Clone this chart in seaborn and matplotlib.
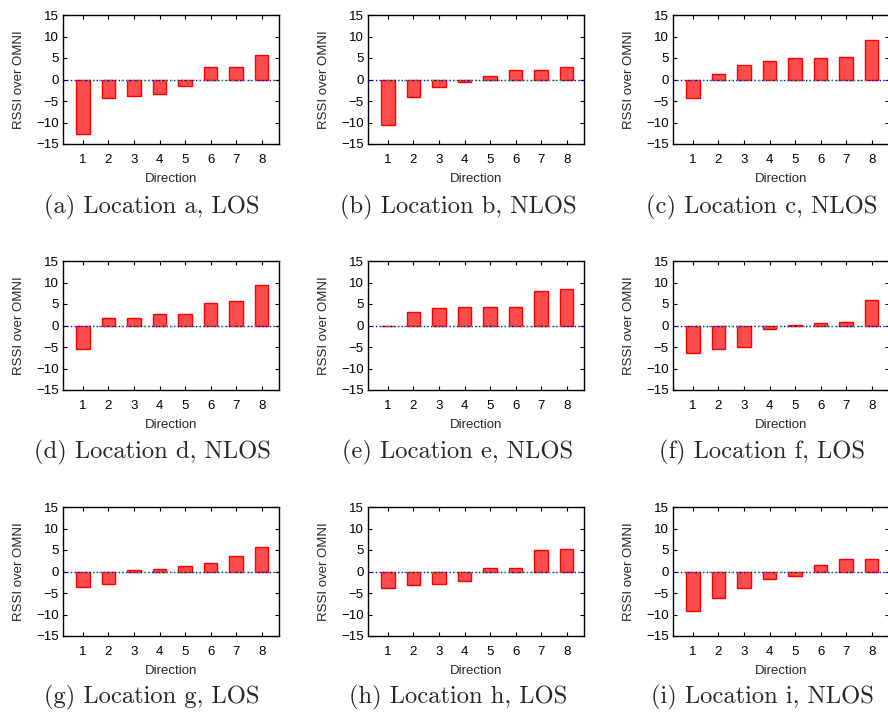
import numpy as np
import pandas as pd
import matplotlib
matplotlib.use('Agg')
import matplotlib.pyplot as plt
import seaborn as sns

# RSSI gain over omni antenna, per direction, for each location
directions = ['1', '2', '3', '4', '5', '6', '7', '8']
loc_a = [-12.6, -4.2, -3.9, -3.3, -1.6, 2.8, 3.0, 5.8]
loc_b = [-10.6, -4.0, -1.7, -0.5, 0.8, 2.3, 2.3, 3.0]
loc_c = [-4.4, 1.2, 3.3, 4.2, 4.9, 5.1, 5.2, 9.2]
loc_d = [-5.5, 1.7, 1.7, 2.6, 2.6, 5.2, 5.7, 9.4]
loc_e = [-0.1, 3.2, 4.0, 4.3, 4.3, 4.4, 8.0, 8.4]
loc_f = [-6.4, -5.5, -5.1, -0.85, 0.1, 0.6, 0.8, 5.9]
loc_g = [-3.6, -2.9, 0.4, 0.5, 1.2, 1.9, 3.7, 5.6]
loc_h = [-3.8, -3.1, -2.9, -2.2, 0.8, 0.9, 5.0, 5.3]
loc_i = [-9.2, -6.1, -3.9, -1.8, -1.0, 1.6, 2.8, 2.8]

captions = ['(a) Location a, LOS', '(b) Location b, NLOS', '(c) Location c, NLOS',
            '(d) Location d, NLOS', '(e) Location e, NLOS', '(f) Location f, LOS',
            '(g) Location g, LOS', '(h) Location h, LOS', '(i) Location i, NLOS']
series = [loc_a, loc_b, loc_c, loc_d, loc_e, loc_f, loc_g, loc_h, loc_i]

sns.set_style('ticks')
plt.rcParams['font.family'] = ['Liberation Sans', 'DejaVu Sans']
plt.rcParams['axes.linewidth'] = 1.0

W, H = 888, 717
fig = plt.figure(figsize=(W/100, H/100), dpi=100)

col_left = [63, 368, 673]
row_top = [15, 261, 507]
aw, ah = 216, 129
cap_x = [152, 458, 762]
cap_y = [207, 452, 697]

for k, (vals, cap) in enumerate(zip(series, captions)):
    r, c = divmod(k, 3)
    ax = fig.add_axes([col_left[c]/W, 1-(row_top[r]+ah)/H, aw/W, ah/H])
    df = pd.DataFrame({'Direction': directions, 'RSSI': vals})
    sns.barplot(data=df, x='Direction', y='RSSI', order=directions, ax=ax,
                color=(1.0, 0.3, 0.3), saturation=1, width=0.53,
                edgecolor='red', linewidth=1.0, errorbar=None)
    ax.axhline(0, color='blue', ls=':', lw=1.0, zorder=3)
    ax.axhline(0, xmin=0.09, xmax=0.91, color='limegreen', ls=(0, (1, 3)), lw=1.0, zorder=3)
    ax.set_xlim(-0.78, 7.68)
    ax.set_ylim(-15, 15)
    ax.set_yticks(np.arange(-15, 16, 5))
    ax.tick_params(direction='in', top=True, right=True, length=3, width=0.8,
                   labelsize=9.5, colors='black')
    ax.tick_params(axis='x', pad=7)
    ax.tick_params(axis='y', pad=3)
    ax.set_xlabel('Direction', fontsize=9.5, labelpad=5)
    ax.set_ylabel('RSSI over OMNI', fontsize=9.5, labelpad=8)
    for s in ax.spines.values():
        s.set_visible(True)
        s.set_color('black')
    fig.text(cap_x[c]/W, 1 - cap_y[r]/H, cap,
             ha='center', va='center', fontsize=17.7, family='cmr10')

fig.savefig('out.png', dpi=100)
